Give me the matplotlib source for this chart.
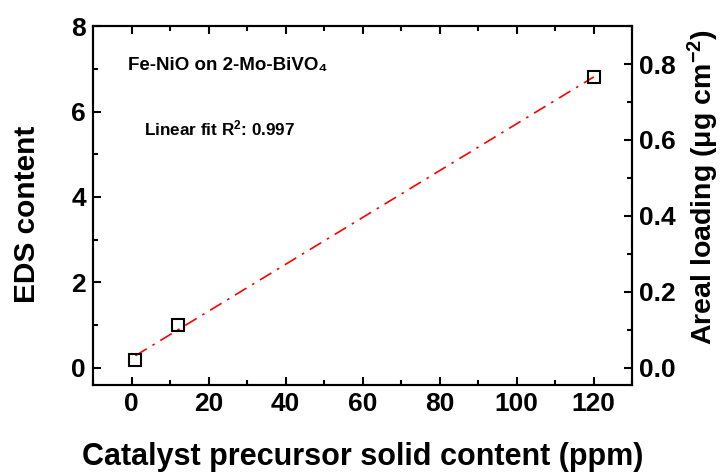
import numpy as np
import matplotlib.pyplot as plt
from matplotlib.ticker import MultipleLocator

plt.rcParams['font.family'] = ['Liberation Sans', 'DejaVu Sans']
plt.rcParams['font.weight'] = 'bold'
plt.rcParams['mathtext.default'] = 'regular'

# data
ppm = [1, 12, 120]
eds = [0.18, 1.0, 6.8]
r2_text = "0.997"
sample_name = "Fe-NiO on 2-Mo-BiVO\u2084"

fig = plt.figure(figsize=(7.21, 4.74), dpi=100)
ax = fig.add_axes([0.129, 0.188, 0.748, 0.757])

# linear fit
k, b = np.polyfit(ppm, eds, 1)
xf = np.array([ppm[0], ppm[-1]])
ax.plot(xf, k * xf + b, color='red', linestyle='-.', linewidth=1.2, dashes=(8, 4, 1.5, 4), zorder=2)
ax.plot(ppm, eds, linestyle='none', marker='s', markersize=9, markerfacecolor='none',
        markeredgecolor='black', markeredgewidth=1.5, zorder=3)

ax.set_xlim(-10, 130)
ax.set_ylim(-0.4, 8)
ax.xaxis.set_major_locator(MultipleLocator(20))
ax.xaxis.set_minor_locator(MultipleLocator(10))
ax.yaxis.set_major_locator(MultipleLocator(2))
ax.yaxis.set_minor_locator(MultipleLocator(1))
ax.tick_params(which='both', direction='in', top=True, right=False, width=1.5, labelsize=19)
ax.tick_params(which='major', length=6, pad=5)
ax.tick_params(which='minor', length=3.5)
for s in ax.spines.values():
    s.set_linewidth(1.5)

ax.set_xlabel('Catalyst precursor solid content (ppm)', fontsize=22, fontweight='bold', labelpad=19)
ax.set_ylabel('EDS content', fontsize=21.5, fontweight='bold', labelpad=22)
ax.yaxis.label.set_y(0.474)

ax2 = ax.twinx()
ax2.set_ylim(-0.045, 0.9)
ax2.yaxis.set_major_locator(MultipleLocator(0.2))
ax2.yaxis.set_minor_locator(MultipleLocator(0.1))
ax2.yaxis.set_major_formatter(plt.FormatStrFormatter('%.1f'))
ax2.tick_params(which='both', direction='in', width=1.5, labelsize=19)
ax2.tick_params(which='major', length=6, pad=5)
ax2.tick_params(which='minor', length=3.5)
for s in ax2.spines.values():
    s.set_linewidth(1.5)
ax2.set_ylabel('Areal loading (\u03bcg cm$^{-2}$)', fontsize=20.5, fontweight='bold', labelpad=7)
ax2.yaxis.label.set_y(0.55)

ax.text(0.065, 0.89, sample_name, transform=ax.transAxes, fontsize=13.5, fontweight='bold', va='center')
ax.text(0.095, 0.715, 'Linear fit R$^2$: ' + r2_text, transform=ax.transAxes, fontsize=12.3,
        fontweight='bold', va='center')

fig.savefig('out.png', dpi=100)
